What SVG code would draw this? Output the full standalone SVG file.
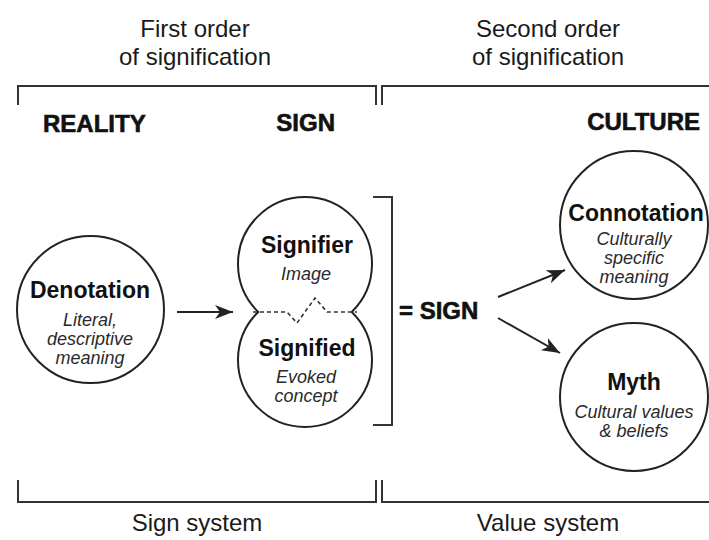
<svg xmlns="http://www.w3.org/2000/svg" width="709" height="540" viewBox="0 0 709 540">
<style>
.lbl{font-family:"Liberation Sans",Arial,sans-serif;font-size:24px;fill:#1a1a1a;text-anchor:middle}
.hd{font-family:"Liberation Sans",Arial,sans-serif;font-size:24px;font-weight:bold;fill:#111;stroke:#111;stroke-width:0.6}
.ttl{font-family:"Liberation Sans",Arial,sans-serif;font-size:23px;font-weight:bold;fill:#111;text-anchor:middle}
.sub{font-family:"Liberation Sans",Arial,sans-serif;font-size:18px;font-style:italic;fill:#2a2a2a;text-anchor:middle}
.brk{fill:none;stroke:#333;stroke-width:2}
.node{fill:#fff;stroke:#222;stroke-width:2}
.arr{stroke:#222;stroke-width:2;fill:none}
</style>
<defs>
<marker id="ah" markerUnits="userSpaceOnUse" markerWidth="20" markerHeight="16" refX="18" refY="7" orient="auto">
<path d="M0,0 L18,7 L0,14 L5,7 Z" fill="#222"/>
</marker>
</defs>
<g id="labels">
<text class="lbl" x="195" y="37">First order</text>
<text class="lbl" x="195" y="65">of signification</text>
<text class="lbl" x="548" y="37">Second order</text>
<text class="lbl" x="548" y="65">of signification</text>
<text class="lbl" x="197" y="531">Sign system</text>
<text class="lbl" x="548" y="531">Value system</text>
<text class="hd" x="43" y="132">REALITY</text>
<text class="hd" x="335" y="131" text-anchor="end">SIGN</text>
<text class="hd" x="700" y="130" text-anchor="end">CULTURE</text>
</g>
<g id="brackets">
<path class="brk" d="M18,105 V86 H376 V105"/>
<path class="brk" d="M382,105 V86 H709"/>
<path class="brk" d="M18,480 V502 H376 V480"/>
<path class="brk" d="M382,480 V502 H709"/>
<path class="brk" d="M373,197 H392 V425 H373"/>
</g>
<g id="denotation">
<circle class="node" cx="90.5" cy="309.5" r="73.5"/>
<text class="ttl" x="90" y="298">Denotation</text>
<text class="sub" x="90" y="326">Literal,</text>
<text class="sub" x="90" y="345">descriptive</text>
<text class="sub" x="90" y="364">meaning</text>
</g>
<g id="sign">
<path class="node" d="M258.26,312 A67,67 0 1,1 351.74,312 A67,67 0 1,1 258.26,312 Z"/>
<path d="M253,312 H287 L297,323 L315,298 L327,312 H357" fill="none" stroke="#333" stroke-width="1.6" stroke-dasharray="4,3"/>
<text class="ttl" x="307" y="253">Signifier</text>
<text class="sub" x="306" y="280">Image</text>
<text class="ttl" x="307" y="356">Signified</text>
<text class="sub" x="306" y="383">Evoked</text>
<text class="sub" x="306" y="402">concept</text>
</g>
<g id="sign2">
<text class="hd" x="399" y="319">= SIGN</text>
</g>
<g id="connotation">
<circle class="node" cx="634" cy="225" r="74"/>
<text class="ttl" x="636" y="221">Connotation</text>
<text class="sub" x="634" y="245">Culturally</text>
<text class="sub" x="634" y="264">specific</text>
<text class="sub" x="634" y="283">meaning</text>
</g>
<g id="myth">
<circle class="node" cx="634" cy="397" r="74"/>
<text class="ttl" x="634" y="390">Myth</text>
<text class="sub" x="634" y="418">Cultural values</text>
<text class="sub" x="634" y="437">&amp; beliefs</text>
</g>
<g id="connectors">
<line class="arr" x1="177" y1="312" x2="233" y2="312" marker-end="url(#ah)"/>
<line class="arr" x1="498" y1="297" x2="565" y2="270" marker-end="url(#ah)"/>
<line class="arr" x1="498" y1="318" x2="560" y2="353" marker-end="url(#ah)"/>
</g>
</svg>
